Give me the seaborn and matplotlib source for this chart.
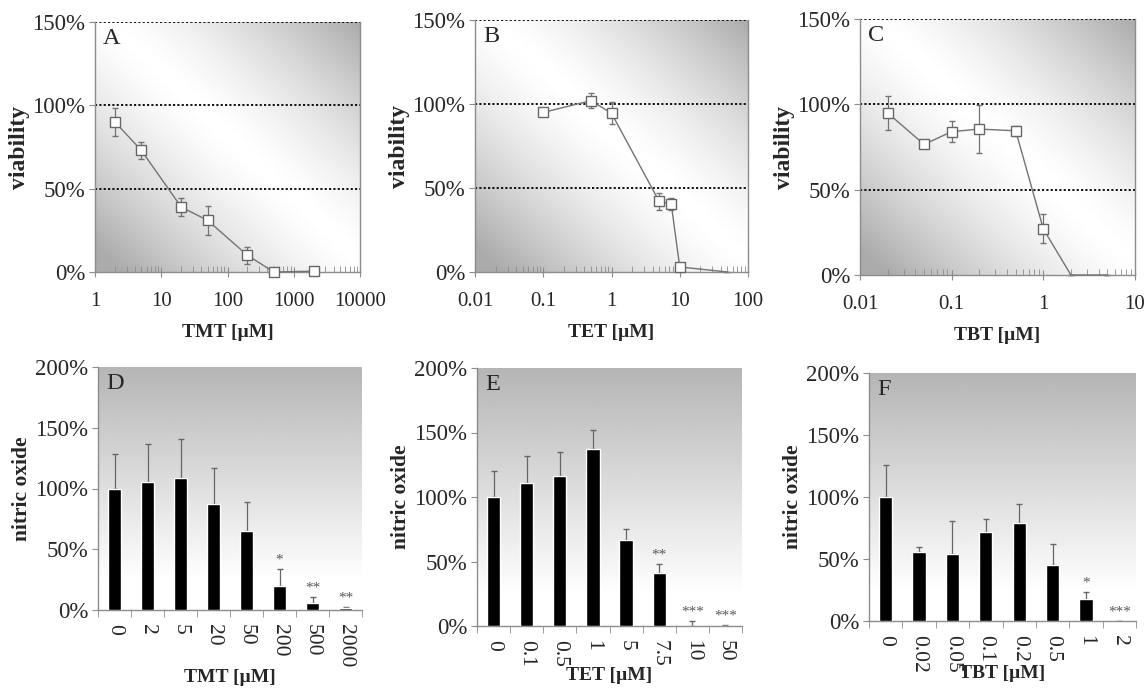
import numpy as np
import seaborn as sns
import matplotlib.pyplot as plt
from matplotlib.ticker import FuncFormatter, LogLocator, NullFormatter, FixedLocator

# ---- viability data (top row) ----
tmt_x = [2, 5, 20, 50, 200, 500, 2000]
tmt_v = [90, 73, 39, 31, 10, 0, 0.5]
tmt_e = [8.5, 5, 5.5, 8.5, 5, 0, 0]

tet_x = [0.1, 0.5, 1, 5, 7.5, 10, 50]
tet_v = [95, 102, 94.5, 42, 40.5, 3, 0]
tet_e = [2, 4.5, 6.5, 5, 3.5, 1, 0]

tbt_x = [0.02, 0.05, 0.1, 0.2, 0.5, 1, 2, 5]
tbt_v = [95, 76.5, 84, 85.5, 84.5, 27, 0, 0]
tbt_e = [10, 1.5, 6, 14, 3, 8.5, 0, 0]

# ---- nitric oxide data (bottom row) ----
tmt_cat = ["0", "2", "5", "20", "50", "200", "500", "2000"]
tmt_no = [100, 105, 109, 87, 65, 20, 6, 2]
tmt_no_e = [28, 32, 32, 30, 24, 14, 4.5, 0.5]
tmt_sig = ["", "", "", "", "", "*", "**", "**"]

tet_cat = ["0", "0.1", "0.5", "1", "5", "7.5", "10", "50"]
tet_no = [100, 111, 116, 137, 67, 41, 0, 0]
tet_no_e = [20, 21, 19, 15, 8.5, 7, 4, 0.5]
tet_sig = ["", "", "", "", "", "**", "***", "***"]

tbt_cat = ["0", "0.02", "0.05", "0.1", "0.2", "0.5", "1", "2"]
tbt_no = [100, 56, 54, 72, 79, 45, 18, 0]
tbt_no_e = [25.5, 4, 26.5, 10, 15.5, 17.5, 5.5, 0]
tbt_sig = ["", "", "", "", "", "", "*", "***"]

sns.set_style("ticks")
plt.rcParams["font.family"] = ["Liberation Serif", "DejaVu Serif"]

W, H = 1146, 691
fig = plt.figure(figsize=(W / 100, H / 100), dpi=100)

GRAY = "0.55"
LINE = "0.45"


def make_axes(x0, y0, x1, y1, kind):
    rect = [x0 / W, 1 - y1 / H, (x1 - x0) / W, (y1 - y0) / H]
    bg = fig.add_axes(rect, zorder=0)
    yy, xx = np.mgrid[0:1:300j, 0:1:300j]
    if kind == "diag":
        d = np.abs(xx + yy - 1.05)
        shade = 1 - 0.33 * np.clip(d / 0.95, 0, 1) ** 1.4
    else:
        shade = 0.71 + 0.29 * np.clip((1 - yy) / 0.88, 0, 1)
    bg.imshow(shade, cmap="gray", vmin=0, vmax=1, origin="lower",
              extent=(0, 1, 0, 1), aspect="auto")
    bg.axis("off")
    ax = fig.add_axes(rect, zorder=1)
    ax.patch.set_alpha(0)
    ax.h_px = y1 - y0
    ax.w_px = x1 - x0
    return ax


def style_common(ax, letter, xlabel, ylabel, xl_dy, ylsize):
    for s in ["left", "bottom", "right"]:
        ax.spines[s].set_color(GRAY)
        ax.spines[s].set_linewidth(1)
    ax.spines["top"].set_visible(False)
    ax.yaxis.set_major_formatter(FuncFormatter(lambda v, _: f"{v:.0f}%"))
    ax.tick_params(axis="y", direction="out", length=4, color=GRAY,
                   labelsize=16.5, pad=3)
    ax.text(0.03, 0.975, letter, transform=ax.transAxes, fontsize=17.5,
            va="top", ha="left")
    ax.set_xlabel(xlabel, fontsize=14, fontweight="bold")
    ax.set_ylabel(ylabel, fontsize=ylsize, fontweight="bold")
    ax.xaxis.label.set_va("center")
    ax.yaxis.label.set_va("center")
    ax.xaxis.set_label_coords(0.5, -xl_dy / ax.h_px)
    ax.yaxis.set_label_coords(-76 / ax.w_px, 0.5)


def viability(ax, x, v, e, xlim, nmark, letter, xlabel, xl_dy=60):
    ax.set_xscale("log")
    ax.errorbar(x, v, yerr=e, fmt="none", ecolor=LINE, elinewidth=0.9,
                capsize=2, zorder=2, clip_on=False)
    sns.lineplot(x=x, y=v, ax=ax, color=LINE, linewidth=1, marker="s",
                 markersize=7, markerfacecolor="white",
                 markeredgecolor="0.4", markeredgewidth=1, zorder=3,
                 markevery=list(range(nmark)), clip_on=False)
    for lvl in (50, 100, 150):
        ax.axhline(lvl, color="black", linestyle=(0, (1.2, 1.2)),
                   linewidth=1.3, zorder=1)
    ax.set_xlim(*xlim)
    ax.set_ylim(0, 150)
    ax.set_yticks([0, 50, 100, 150])
    ax.xaxis.set_major_locator(LogLocator(base=10, numticks=20))
    ax.xaxis.set_minor_locator(LogLocator(base=10, subs=np.arange(2, 10),
                                          numticks=100))
    ax.xaxis.set_minor_formatter(NullFormatter())
    ax.xaxis.set_major_formatter(FuncFormatter(lambda v, _: f"{v:g}"))
    ax.tick_params(axis="x", which="major", direction="inout", length=7,
                   color=GRAY, labelsize=15, pad=11)
    ax.tick_params(axis="x", which="minor", direction="in", length=4,
                   color=GRAY)
    style_common(ax, letter, xlabel, "viability", xl_dy, 17)


def nitric(ax, cats, vals, errs, sig, letter, xlabel, xl_dy):
    sns.barplot(x=cats, y=vals, ax=ax, color="black", width=0.4,
                saturation=1, zorder=3)
    pos = np.arange(len(cats))
    ax.errorbar(pos, vals, yerr=[np.zeros(len(errs)), errs], fmt="none",
                ecolor="0.4", elinewidth=0.9, capsize=2.5, zorder=2)
    for p, v, e, s in zip(pos, vals, errs, sig):
        if s:
            ax.text(p, v + e + 2, s, ha="center", va="bottom", fontsize=11,
                    color="0.35")
    ax.set_xlim(-0.5, len(cats) - 0.5)
    ax.set_ylim(0, 200)
    ax.set_yticks([0, 50, 100, 150, 200])
    ax.xaxis.set_major_locator(FixedLocator(pos))
    ax.set_xticks(pos)
    ax.set_xticklabels(cats, rotation=-90)
    ax.set_xticks(np.arange(len(cats) + 1) - 0.5, minor=True)
    ax.tick_params(axis="x", which="major", length=0, labelsize=15.5, pad=10)
    ax.tick_params(axis="x", which="minor", direction="out", length=5,
                   color=GRAY)
    style_common(ax, letter, xlabel, "nitric oxide", xl_dy, 15.5)
    ax.spines["right"].set_visible(False)


axA = make_axes(95, 22, 360, 272, "diag")
viability(axA, tmt_x, tmt_v, tmt_e, (1, 10000), 7, "A", "TMT [µM]")
axB = make_axes(475, 20, 748, 272, "diag")
viability(axB, tet_x, tet_v, tet_e, (0.01, 100), 6, "B", "TET [µM]")
axC = make_axes(860, 19, 1135, 275, "diag")
viability(axC, tbt_x, tbt_v, tbt_e, (0.01, 10), 6, "C", "TBT [µM]")

axD = make_axes(98, 367, 362, 610, "vert")
nitric(axD, tmt_cat, tmt_no, tmt_no_e, tmt_sig, "D", "TMT [µM]", 67)
axE = make_axes(477, 368, 742, 626, "vert")
nitric(axE, tet_cat, tet_no, tet_no_e, tet_sig, "E", "TET [µM]", 50)
axF = make_axes(869, 373, 1136, 621, "vert")
nitric(axF, tbt_cat, tbt_no, tbt_no_e, tbt_sig, "F", "TBT [µM]", 52)

fig.savefig("out.png", dpi=100)
